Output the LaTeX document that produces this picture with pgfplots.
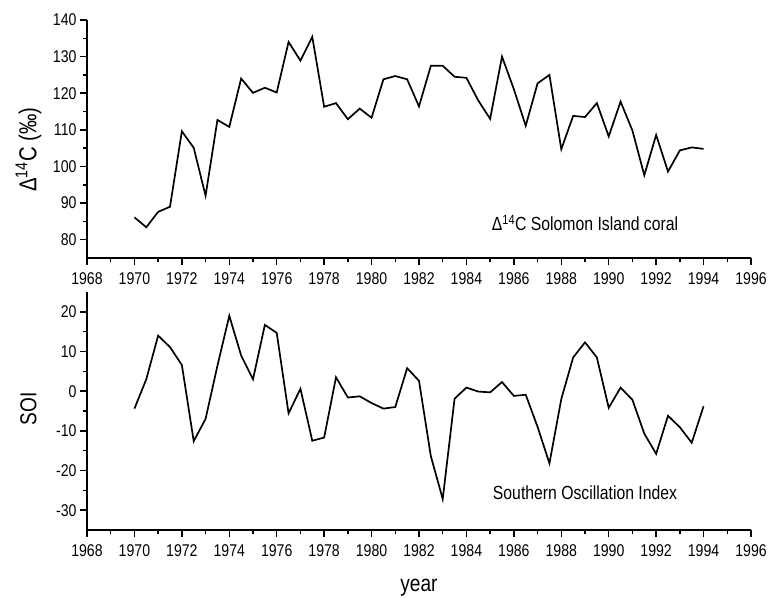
\documentclass[border=0pt]{standalone}
\usepackage{fontspec}
\setmainfont{Liberation Sans}[FakeStretch=0.83]
\usepackage{pgfplots}
\pgfplotsset{compat=1.18}
\pgfplotstableread{
x y
1970 86.1
1970.5 83.4
1971 87.6
1971.5 89.0
1972 109.6
1972.5 105.1
1973 92.0
1973.5 112.7
1974 110.8
1974.5 124.0
1975 120.1
1975.5 121.5
1976 120.2
1976.5 134.0
1977 128.9
1977.5 135.4
1978 116.3
1978.5 117.3
1979 112.9
1979.5 115.8
1980 113.3
1980.5 123.8
1981 124.7
1981.5 123.8
1982 116.4
1982.5 127.5
1983 127.5
1983.5 124.5
1984 124.2
1984.5 118.0
1985 113.0
1985.5 130.0
1986 121.1
1986.5 111.1
1987 122.7
1987.5 125.0
1988 104.7
1988.5 113.8
1989 113.5
1989.5 117.3
1990 108.2
1990.5 117.7
1991 109.8
1991.5 97.6
1992 108.6
1992.5 98.6
1993 104.4
1993.5 105.2
1994 104.8
}\coral
\pgfplotstableread{
x y
1970 -4.4
1970.5 3.0
1971 14.0
1971.5 11.1
1972 6.6
1972.5 -12.6
1973 -7.0
1973.5 6.4
1974 19.0
1974.5 9.0
1975 3.0
1975.5 16.7
1976 14.7
1976.5 -5.6
1977 0.6
1977.5 -12.5
1978 -11.7
1978.5 3.5
1979 -1.6
1979.5 -1.3
1980 -3.0
1980.5 -4.4
1981 -4.0
1981.5 5.8
1982 2.6
1982.5 -16.4
1983 -27.2
1983.5 -1.9
1984 0.9
1984.5 -0.1
1985 -0.3
1985.5 2.3
1986 -1.2
1986.5 -0.9
1987 -9.0
1987.5 -18.2
1988 -2.0
1988.5 8.5
1989 12.3
1989.5 8.5
1990 -4.2
1990.5 0.9
1991 -2.2
1991.5 -10.7
1992 -15.8
1992.5 -6.2
1993 -9.1
1993.5 -13.0
1994 -3.8
}\soi
\pgfplotsset{
  myaxis/.style={
    width=664pt, height=238pt, scale only axis,
    xmin=1968, xmax=1996, xtick distance=2,
    minor x tick num=1, minor y tick num=1,
    axis x line*=bottom, axis y line*=left,
    axis line style={line width=1.7pt, -},
    tick style={line width=1.5pt, black},
    tick align=outside,
    major tick length=7pt, minor tick length=4.5pt,
    /pgf/number format/assume math mode=true,
    /pgf/number format/1000 sep={},
    ticklabel style={font=\fontsize{17}{17}\selectfont},
    xticklabel style={yshift=-4pt},
    label style={font=\fontsize{23}{23}\selectfont},
  }
}
\begin{document}
\begin{tikzpicture}
\begin{axis}[myaxis, name=top,
  ymin=75, ymax=140, ytick={80,90,...,140},
  ylabel={Δ\textsuperscript{14}C (‰)},
  ylabel style={at={(axis description cs:-0.088,0.455)}, anchor=center, font=\fontsize{24.5}{24.5}\selectfont},
]
\addplot[black, line width=1.7pt] table {\coral};
\node[font=\fontsize{19}{19}\selectfont] at (axis cs:1989,84.6) {Δ\textsuperscript{14}C Solomon Island coral};
\end{axis}
\begin{axis}[myaxis, name=bot, at={(top.south west)}, anchor=north west, yshift=-34pt,
  ymin=-35, ymax=25, ytick={-30,-20,...,20},
  ylabel={SOI},
  ylabel style={at={(axis description cs:-0.088,0.51)}, anchor=center},
  xlabel={year},
  xlabel style={at={(axis description cs:0.5,-0.26)}, anchor=base},
]
\addplot[black, line width=1.7pt] table {\soi};
\node[font=\fontsize{19}{19}\selectfont] at (axis cs:1989,-25.5) {Southern Oscillation Index};
\end{axis}
\pgfresetboundingbox
\path[use as bounding box] ([xshift=-87pt,yshift=20pt]top.north west) rectangle ([xshift=18pt,yshift=-68pt]bot.south east);
\end{tikzpicture}
\end{document}
